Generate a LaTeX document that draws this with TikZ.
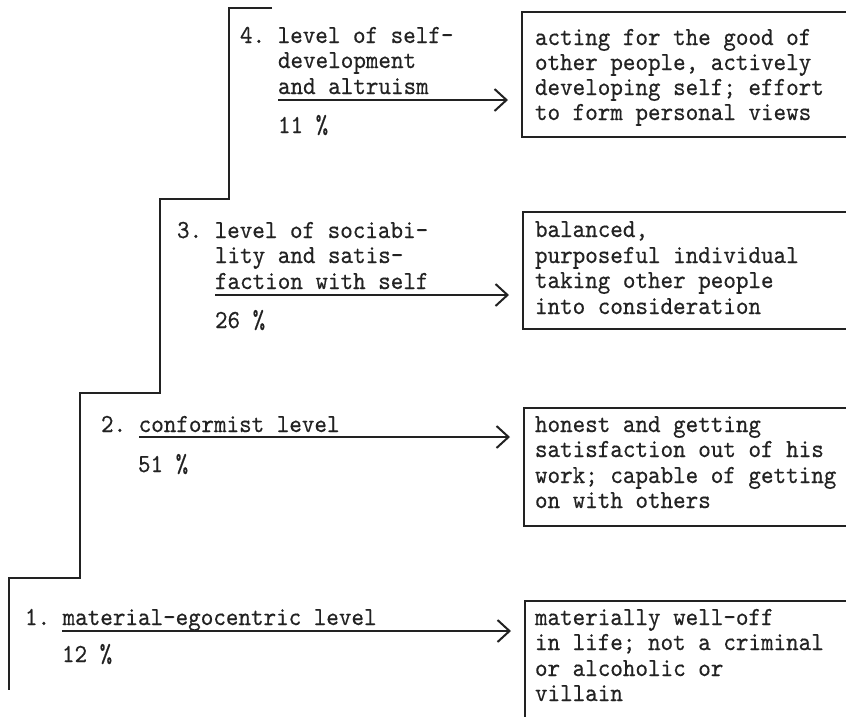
\documentclass[tikz,border=0pt]{standalone}
\usepackage{fontspec}
\setmonofont{lmmono10-regular.otf}[FakeStretch=0.92,FakeBold=0.4]
\usetikzlibrary{arrows.meta}
\definecolor{ink}{HTML}{222222}
\begin{document}
\begin{tikzpicture}[x=1pt,y=-1pt,
  lbl/.style={anchor=base west, inner sep=0pt, outer sep=0pt,
    font=\ttfamily\fontsize{26}{25}\selectfont, text=ink},
  framebox/.style={draw=ink, line width=1.8pt, inner sep=0pt, outer sep=0pt,
    anchor=north west, minimum width=480pt},
  stairline/.style={draw=ink, line width=2pt},
  pointer/.style={draw=ink, line width=1.6pt, shorten >=14pt,
    -{Straight Barb[length=12pt,width=22pt,line width=2pt]}}]
\useasboundingbox (0,0) rectangle (846,716);
\clip (0,0) rectangle (846,716);
\fill[white] (0,0) rectangle (846,716);

% staircase
\draw[stairline] (272,8) -- (229,8) -- (229,199) -- (160,199) -- (160,393)
  -- (80,393) -- (80,578) -- (9,578) -- (9,690);

% description boxes (running off the right edge)
\node[framebox, minimum height=125pt] (box4) at (522,12) {};
\node[framebox, minimum height=117pt] (box3) at (523,212) {};
\node[framebox, minimum height=118pt] (box2) at (524,408) {};
\node[framebox, minimum height=200pt] (box1) at (525,601) {};

% level 4
\node[lbl] (l4a) at (240,43) {4. level of self-};
\node[lbl] (l4b) at (278,68) {development};
\node[lbl] (l4c) at (278,94) {and altruism};
\node[lbl] (l4p) at (278,133) {11 \%};
\coordinate (u4) at (278,100);
\draw[pointer] (u4) -- (box4.west |- u4);

\node[lbl] (d4a) at (535,45) {acting for the good of};
\node[lbl] (d4b) at (535,70) {other people, actively};
\node[lbl] (d4c) at (535,95) {developing self; effort};
\node[lbl] (d4d) at (535,120) {to form personal views};

% level 3
\node[lbl] (l3a) at (177,238) {3. level of sociabi-};
\node[lbl] (l3b) at (215,263) {lity and satis-};
\node[lbl] (l3c) at (215,289) {faction with self};
\node[lbl] (l3p) at (215,328) {26 \%};
\coordinate (u3) at (215,295);
\draw[pointer] (u3) -- (box3.west |- u3);

\node[lbl] (d3a) at (535,237) {balanced,};
\node[lbl] (d3b) at (535,263) {purposeful individual};
\node[lbl] (d3c) at (535,288) {taking other people};
\node[lbl] (d3d) at (535,314) {into consideration};

% level 2
\node[lbl] (l2a) at (101,432) {2. conformist level};
\node[lbl] (l2p) at (138,472) {51 \%};
\coordinate (u2) at (139,437);
\draw[pointer] (u2) -- (box2.west |- u2);

\node[lbl] (d2a) at (535,432) {honest and getting};
\node[lbl] (d2b) at (535,457) {satisfaction out of his};
\node[lbl] (d2c) at (535,483) {work; capable of getting};
\node[lbl] (d2d) at (535,508) {on with others};

% level 1
\node[lbl] (l1a) at (25,625) {1. material-egocentric level};
\node[lbl] (l1p) at (62,662) {12 \%};
\coordinate (u1) at (62,631);
\draw[pointer] (u1) -- (box1.west |- u1);

\node[lbl] (d1a) at (535,625) {materially well-off};
\node[lbl] (d1b) at (535,650) {in life; not a criminal};
\node[lbl] (d1c) at (535,676) {or alcoholic or};
\node[lbl] (d1d) at (535,701) {villain};
\end{tikzpicture}
\end{document}
